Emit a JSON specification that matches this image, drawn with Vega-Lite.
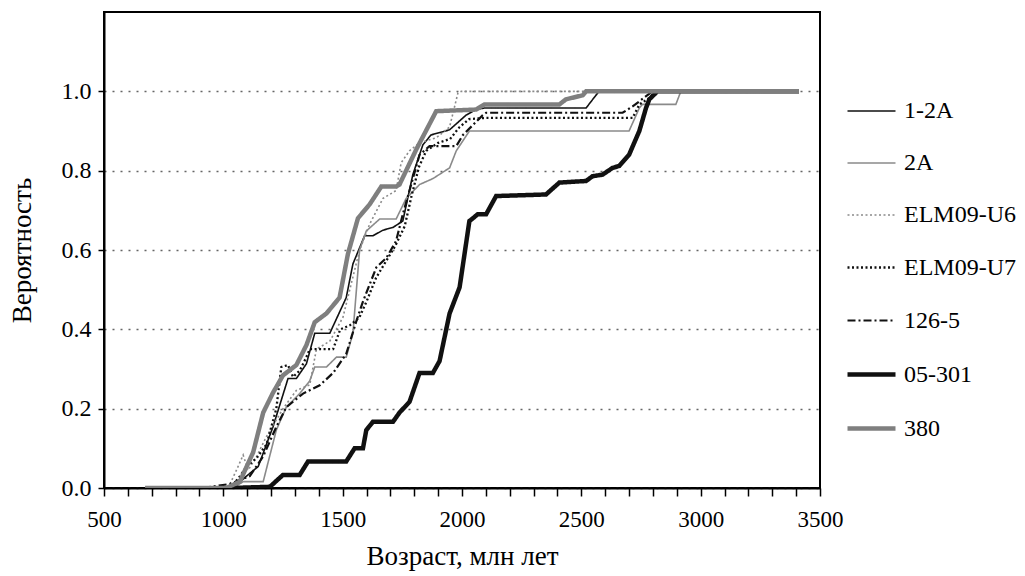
{
 "$schema": "https://vega.github.io/schema/vega-lite/v6.json",
 "width": 716,
 "height": 476,
 "autosize": {"type": "none"},
 "padding": {"left": 104, "top": 12, "right": 205, "bottom": 88},
 "background": "white",
 "config": {
  "font": "Times New Roman",
  "view": {"stroke": "black", "strokeWidth": 2},
  "axis": {"labelFont": "Times New Roman", "titleFont": "Times New Roman", "labelColor": "black", "titleColor": "black", "tickColor": "black", "domainColor": "black", "titleFontWeight": "normal"},
  "legend": {"labelFont": "Times New Roman", "labelColor": "black"}
 },
 "data": {"values": [
  {"s":"1-2A","x":1040,"y":0},{"s":"1-2A","x":1097,"y":0.03},{"s":"1-2A","x":1146,"y":0.054},{"s":"1-2A","x":1208,"y":0.154},{"s":"1-2A","x":1271,"y":0.276},{"s":"1-2A","x":1306,"y":0.276},{"s":"1-2A","x":1348,"y":0.313},{"s":"1-2A","x":1383,"y":0.39},{"s":"1-2A","x":1446,"y":0.39},{"s":"1-2A","x":1515,"y":0.48},{"s":"1-2A","x":1543,"y":0.565},{"s":"1-2A","x":1592,"y":0.636},{"s":"1-2A","x":1627,"y":0.636},{"s":"1-2A","x":1669,"y":0.65},{"s":"1-2A","x":1711,"y":0.657},{"s":"1-2A","x":1752,"y":0.673},{"s":"1-2A","x":1794,"y":0.79},{"s":"1-2A","x":1836,"y":0.865},{"s":"1-2A","x":1870,"y":0.89},{"s":"1-2A","x":1948,"y":0.903},{"s":"1-2A","x":2017,"y":0.94},{"s":"1-2A","x":2059,"y":0.954},{"s":"1-2A","x":2094,"y":0.958},{"s":"1-2A","x":2520,"y":0.958},{"s":"1-2A","x":2561,"y":0.99},{"s":"1-2A","x":2575,"y":1.0},{"s":"1-2A","x":3412,"y":1.0},

  {"s":"2A","x":1040,"y":0},{"s":"2A","x":1083,"y":0.016},{"s":"2A","x":1167,"y":0.016},{"s":"2A","x":1222,"y":0.146},{"s":"2A","x":1264,"y":0.204},{"s":"2A","x":1320,"y":0.238},{"s":"2A","x":1362,"y":0.27},{"s":"2A","x":1383,"y":0.305},{"s":"2A","x":1432,"y":0.305},{"s":"2A","x":1474,"y":0.33},{"s":"2A","x":1515,"y":0.33},{"s":"2A","x":1543,"y":0.39},{"s":"2A","x":1571,"y":0.6},{"s":"2A","x":1599,"y":0.648},{"s":"2A","x":1655,"y":0.678},{"s":"2A","x":1724,"y":0.678},{"s":"2A","x":1766,"y":0.73},{"s":"2A","x":1822,"y":0.765},{"s":"2A","x":1878,"y":0.78},{"s":"2A","x":1948,"y":0.807},{"s":"2A","x":1976,"y":0.85},{"s":"2A","x":2031,"y":0.9},{"s":"2A","x":2700,"y":0.9},{"s":"2A","x":2743,"y":0.958},{"s":"2A","x":2756,"y":0.967},{"s":"2A","x":2896,"y":0.967},{"s":"2A","x":2917,"y":1.0},{"s":"2A","x":3412,"y":1.0},

  {"s":"ELM09-U6","x":1020,"y":0},{"s":"ELM09-U6","x":1055,"y":0.045},{"s":"ELM09-U6","x":1083,"y":0.083},{"s":"ELM09-U6","x":1104,"y":0.045},{"s":"ELM09-U6","x":1140,"y":0.08},{"s":"ELM09-U6","x":1181,"y":0.13},{"s":"ELM09-U6","x":1250,"y":0.2},{"s":"ELM09-U6","x":1306,"y":0.246},{"s":"ELM09-U6","x":1362,"y":0.26},{"s":"ELM09-U6","x":1390,"y":0.35},{"s":"ELM09-U6","x":1446,"y":0.37},{"s":"ELM09-U6","x":1501,"y":0.43},{"s":"ELM09-U6","x":1571,"y":0.6},{"s":"ELM09-U6","x":1613,"y":0.665},{"s":"ELM09-U6","x":1669,"y":0.73},{"s":"ELM09-U6","x":1724,"y":0.75},{"s":"ELM09-U6","x":1745,"y":0.82},{"s":"ELM09-U6","x":1780,"y":0.85},{"s":"ELM09-U6","x":1822,"y":0.87},{"s":"ELM09-U6","x":1892,"y":0.883},{"s":"ELM09-U6","x":1948,"y":0.91},{"s":"ELM09-U6","x":1983,"y":0.996},{"s":"ELM09-U6","x":1997,"y":1.0},{"s":"ELM09-U6","x":3412,"y":1.0},

  {"s":"ELM09-U7","x":1030,"y":0},{"s":"ELM09-U7","x":1070,"y":0.03},{"s":"ELM09-U7","x":1097,"y":0.054},{"s":"ELM09-U7","x":1139,"y":0.075},{"s":"ELM09-U7","x":1181,"y":0.11},{"s":"ELM09-U7","x":1222,"y":0.2},{"s":"ELM09-U7","x":1243,"y":0.305},{"s":"ELM09-U7","x":1271,"y":0.31},{"s":"ELM09-U7","x":1292,"y":0.28},{"s":"ELM09-U7","x":1320,"y":0.296},{"s":"ELM09-U7","x":1348,"y":0.33},{"s":"ELM09-U7","x":1362,"y":0.35},{"s":"ELM09-U7","x":1460,"y":0.35},{"s":"ELM09-U7","x":1490,"y":0.4},{"s":"ELM09-U7","x":1530,"y":0.41},{"s":"ELM09-U7","x":1570,"y":0.43},{"s":"ELM09-U7","x":1600,"y":0.47},{"s":"ELM09-U7","x":1640,"y":0.53},{"s":"ELM09-U7","x":1680,"y":0.57},{"s":"ELM09-U7","x":1720,"y":0.61},{"s":"ELM09-U7","x":1760,"y":0.66},{"s":"ELM09-U7","x":1790,"y":0.74},{"s":"ELM09-U7","x":1820,"y":0.81},{"s":"ELM09-U7","x":1850,"y":0.85},{"s":"ELM09-U7","x":1900,"y":0.87},{"s":"ELM09-U7","x":1950,"y":0.88},{"s":"ELM09-U7","x":1990,"y":0.91},{"s":"ELM09-U7","x":2030,"y":0.93},{"s":"ELM09-U7","x":2100,"y":0.933},{"s":"ELM09-U7","x":2715,"y":0.933},{"s":"ELM09-U7","x":2743,"y":0.967},{"s":"ELM09-U7","x":2785,"y":0.983},{"s":"ELM09-U7","x":2812,"y":1.0},{"s":"ELM09-U7","x":3412,"y":1.0},

  {"s":"126-5","x":914,"y":0},{"s":"126-5","x":1027,"y":0.01},{"s":"126-5","x":1111,"y":0.03},{"s":"126-5","x":1167,"y":0.08},{"s":"126-5","x":1222,"y":0.154},{"s":"126-5","x":1264,"y":0.204},{"s":"126-5","x":1334,"y":0.238},{"s":"126-5","x":1404,"y":0.259},{"s":"126-5","x":1460,"y":0.29},{"s":"126-5","x":1515,"y":0.338},{"s":"126-5","x":1557,"y":0.42},{"s":"126-5","x":1585,"y":0.47},{"s":"126-5","x":1641,"y":0.556},{"s":"126-5","x":1683,"y":0.58},{"s":"126-5","x":1724,"y":0.623},{"s":"126-5","x":1752,"y":0.69},{"s":"126-5","x":1794,"y":0.78},{"s":"126-5","x":1822,"y":0.84},{"s":"126-5","x":1864,"y":0.862},{"s":"126-5","x":1976,"y":0.862},{"s":"126-5","x":2004,"y":0.89},{"s":"126-5","x":2087,"y":0.94},{"s":"126-5","x":2101,"y":0.946},{"s":"126-5","x":2673,"y":0.946},{"s":"126-5","x":2715,"y":0.962},{"s":"126-5","x":2798,"y":1.0},{"s":"126-5","x":3412,"y":1.0},

  {"s":"05-301","x":1030,"y":0},{"s":"05-301","x":1195,"y":0.003},{"s":"05-301","x":1250,"y":0.033},{"s":"05-301","x":1320,"y":0.033},{"s":"05-301","x":1355,"y":0.067},{"s":"05-301","x":1515,"y":0.067},{"s":"05-301","x":1550,"y":0.1},{"s":"05-301","x":1585,"y":0.1},{"s":"05-301","x":1599,"y":0.146},{"s":"05-301","x":1627,"y":0.167},{"s":"05-301","x":1711,"y":0.167},{"s":"05-301","x":1738,"y":0.19},{"s":"05-301","x":1780,"y":0.217},{"s":"05-301","x":1822,"y":0.29},{"s":"05-301","x":1878,"y":0.29},{"s":"05-301","x":1906,"y":0.32},{"s":"05-301","x":1948,"y":0.44},{"s":"05-301","x":1990,"y":0.506},{"s":"05-301","x":2031,"y":0.673},{"s":"05-301","x":2066,"y":0.69},{"s":"05-301","x":2101,"y":0.69},{"s":"05-301","x":2143,"y":0.736},{"s":"05-301","x":2352,"y":0.74},{"s":"05-301","x":2408,"y":0.77},{"s":"05-301","x":2520,"y":0.774},{"s":"05-301","x":2547,"y":0.786},{"s":"05-301","x":2589,"y":0.79},{"s":"05-301","x":2631,"y":0.807},{"s":"05-301","x":2659,"y":0.812},{"s":"05-301","x":2700,"y":0.84},{"s":"05-301","x":2743,"y":0.9},{"s":"05-301","x":2771,"y":0.958},{"s":"05-301","x":2785,"y":0.98},{"s":"05-301","x":2819,"y":1.0},{"s":"05-301","x":3412,"y":1.0},

  {"s":"380","x":672,"y":0},{"s":"380","x":1013,"y":0},{"s":"380","x":1069,"y":0.016},{"s":"380","x":1125,"y":0.09},{"s":"380","x":1167,"y":0.19},{"s":"380","x":1208,"y":0.24},{"s":"380","x":1250,"y":0.284},{"s":"380","x":1306,"y":0.31},{"s":"380","x":1348,"y":0.36},{"s":"380","x":1383,"y":0.418},{"s":"380","x":1432,"y":0.44},{"s":"380","x":1487,"y":0.48},{"s":"380","x":1522,"y":0.59},{"s":"380","x":1564,"y":0.68},{"s":"380","x":1613,"y":0.715},{"s":"380","x":1662,"y":0.76},{"s":"380","x":1724,"y":0.76},{"s":"380","x":1738,"y":0.765},{"s":"380","x":1808,"y":0.853},{"s":"380","x":1892,"y":0.95},{"s":"380","x":2059,"y":0.954},{"s":"380","x":2094,"y":0.967},{"s":"380","x":2408,"y":0.967},{"s":"380","x":2436,"y":0.98},{"s":"380","x":2506,"y":0.99},{"s":"380","x":2520,"y":1.0},{"s":"380","x":3412,"y":1.0}
 ]},
 "mark": {"type": "line", "interpolate": "linear", "clip": true},
 "encoding": {
  "x": {"field": "x", "type": "quantitative",
   "scale": {"domain": [500, 3500], "nice": false, "zero": false},
   "axis": {"title": "Возраст, млн лет", "values": [500,600,700,800,900,1000,1100,1200,1300,1400,1500,1600,1700,1800,1900,2000,2100,2200,2300,2400,2500,2600,2700,2800,2900,3000,3100,3200,3300,3400,3500],
    "labelExpr": "datum.value % 500 === 0 ? datum.label : ''", "format": "d", "grid": false,
    "tickSize": 8, "tickWidth": 1.5, "domainWidth": 2, "labelFontSize": 23, "labelPadding": 12,
    "labelOverlap": false, "labelFlush": false, "titleFontSize": 27, "titlePadding": 12}},
  "y": {"field": "y", "type": "quantitative",
   "scale": {"domain": [0, 1.2], "nice": false},
   "axis": {"title": "Вероятность", "values": [0, 0.2, 0.4, 0.6, 0.8, 1.0], "format": ".1f",
    "grid": true, "gridDash": [2, 6], "gridColor": "#666", "gridWidth": 1.5,
    "tickSize": 6, "tickWidth": 1.5, "domainWidth": 2, "labelFontSize": 24, "labelPadding": 7,
    "titleFontSize": 27, "titlePadding": 25}},
  "color": {"field": "s", "type": "nominal",
   "scale": {"domain": ["1-2A","2A","ELM09-U6","ELM09-U7","126-5","05-301","380"],
    "range": ["#111111","#8a8a8a","#8a8a8a","#111111","#111111","#111111","#7f7f7f"]},
   "legend": {"title": null, "orient": "none", "legendX": 741, "legendY": 74, "padding": 0,
    "symbolType": "stroke", "symbolSize": 2304, "rowPadding": 15, "labelFontSize": 24, "labelOffset": 6,
    "labelLimit": 200}},
  "strokeDash": {"field": "s", "type": "nominal",
   "scale": {"domain": ["1-2A","2A","ELM09-U6","ELM09-U7","126-5","05-301","380"],
    "range": [[1,0],[1,0],[2,2.5],[2,2.5],[8,3,2,3],[1,0],[1,0]]},
   "legend": {"title": null, "orient": "none", "legendX": 741, "legendY": 74, "padding": 0,
    "symbolType": "stroke", "symbolSize": 2304, "rowPadding": 15, "labelFontSize": 24, "labelOffset": 6,
    "labelLimit": 200}},
  "strokeWidth": {"field": "s", "type": "nominal",
   "scale": {"type": "ordinal", "domain": ["1-2A","2A","ELM09-U6","ELM09-U7","126-5","05-301","380"],
    "range": [1.6, 1.6, 1.6, 2.3, 2.2, 4.5, 4.5]},
   "legend": {"title": null, "orient": "none", "legendX": 741, "legendY": 74, "padding": 0,
    "symbolType": "stroke", "symbolSize": 2304, "rowPadding": 15, "labelFontSize": 24, "labelOffset": 6,
    "labelLimit": 200}}
 }
}
